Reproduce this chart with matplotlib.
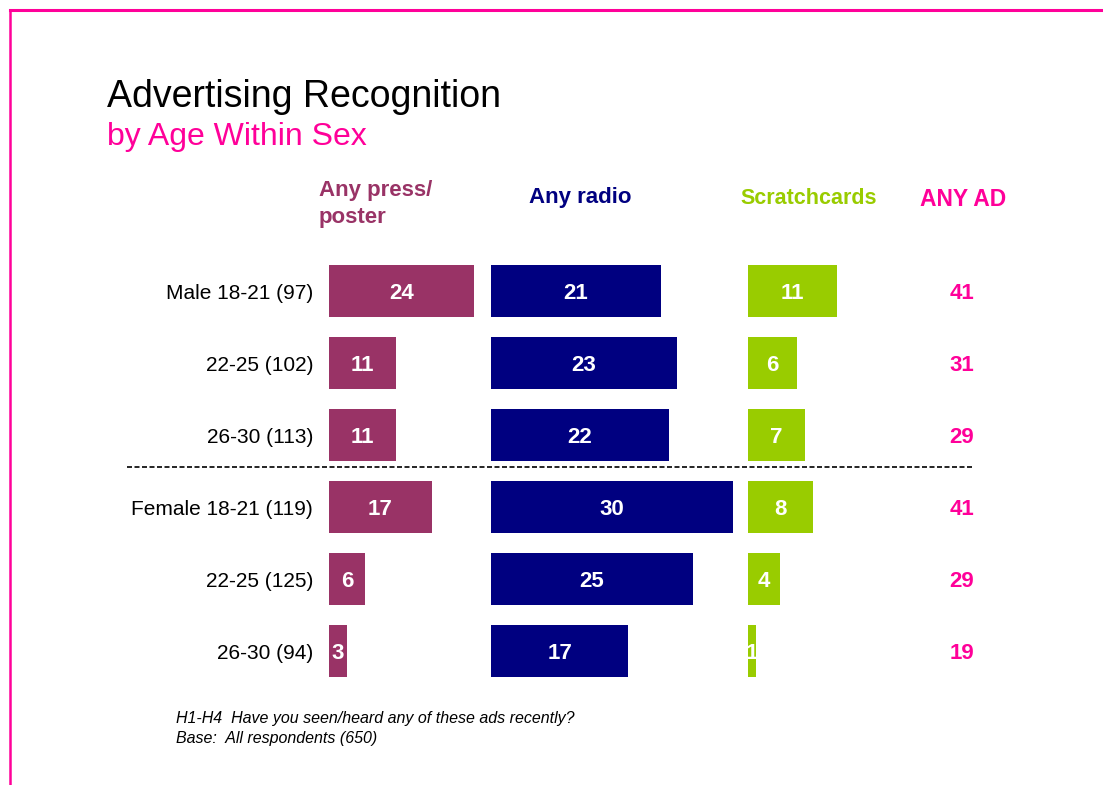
import matplotlib
matplotlib.use("Agg")
import matplotlib.pyplot as plt
from matplotlib.lines import Line2D
from matplotlib.transforms import blended_transform_factory

plt.rcParams['font.family'] = ['Liberation Sans', 'DejaVu Sans']

# survey results (%)
groups = ["Male 18-21 (97)", "22-25 (102)", "26-30 (113)",
          "Female 18-21 (119)", "22-25 (125)", "26-30 (94)"]
press = [24, 11, 11, 17, 6, 3]
radio = [21, 23, 22, 30, 25, 17]
scratch = [11, 6, 7, 8, 4, 1]
any_ad = [41, 31, 29, 41, 29, 19]

PRESS_C = "#993366"
RADIO_C = "#000080"
SCRATCH_C = "#99CC00"
PINK = "#FF0099"

W, H = 1103, 785
TXT_DY = 0.035  # nudge text down a touch so digits sit mid-bar

fig = plt.figure(figsize=(W / 100, H / 100), dpi=100)


def px_axes(left, top, width, height):
    return fig.add_axes([left / W, 1 - (top + height) / H, width / W, height / H])


def bar_panel(left, width, px_per_unit, values, color):
    ax = px_axes(left, 255, width, 432)
    ax.barh(range(len(values)), values, height=0.71, color=color)
    for i, v in enumerate(values):
        ax.text(v / 2, i + TXT_DY, str(v), ha="center", va="center",
                color="white", fontsize=16, fontweight="bold")
    ax.set_xlim(0, width / px_per_unit)
    ax.set_ylim(len(values) - 0.5, -0.5)
    ax.axis("off")
    return ax


ax_press = bar_panel(329, 150, 6.05, press, PRESS_C)
ax_radio = bar_panel(491, 250, 8.08, radio, RADIO_C)
ax_scr = bar_panel(748, 100, 8.1, scratch, SCRATCH_C)

# ANY AD column
ax_any = px_axes(900, 255, 124, 432)
ax_any.set_xlim(0, 1)
ax_any.set_ylim(len(any_ad) - 0.5, -0.5)
ax_any.axis("off")
for i, v in enumerate(any_ad):
    ax_any.text(0.5, i + TXT_DY, str(v), ha="center", va="center", color=PINK,
                fontsize=16, fontweight="bold")

# row labels
tr = blended_transform_factory(fig.transFigure, ax_press.transData)
for i, g in enumerate(groups):
    fig.text(313 / W, i + TXT_DY, g, transform=tr, ha="right", va="center",
             fontsize=15, color="black")

# dashed separator between male and female rows
fig.add_artist(Line2D([127 / W, 973 / W], [2.45, 2.45], transform=tr,
                      color="black", lw=1.2, linestyle=(0, (3, 1.5))))

# column headers
def fy(y):
    return 1 - y / H

fig.text(319 / W, fy(180), "Any press/\nposter", ha="left", va="top",
         fontsize=16, fontweight="bold", color=PRESS_C, linespacing=1.4)
fig.text(580 / W, fy(197), "Any radio", ha="center", va="center",
         fontsize=16, fontweight="bold", color=RADIO_C)
fig.text(809 / W, fy(199), "Scratchcards", ha="center", va="center",
         fontsize=15.5, fontweight="bold", color=SCRATCH_C)
fig.text(963 / W, fy(199), "ANY AD", ha="center", va="center",
         fontsize=16.5, fontweight="bold", color=PINK)

# titles
fig.text(107 / W, fy(97), "Advertising Recognition", ha="left", va="center",
         fontsize=27, color="black")
fig.text(107 / W, fy(137), "by Age Within Sex", ha="left", va="center",
         fontsize=23, color=PINK)

# footnote
fig.text(176 / W, fy(719), "H1-H4  Have you seen/heard any of these ads recently?",
         ha="left", va="center", fontsize=11.5, style="italic")
fig.text(176 / W, fy(738), "Base:  All respondents (650)",
         ha="left", va="center", fontsize=11.5, style="italic")

# pink frame on the top and left edge
fig.add_artist(Line2D([10 / W, 1], [fy(10), fy(10)], color=PINK, lw=2.2))
fig.add_artist(Line2D([10 / W, 10 / W], [fy(10), 0], color=PINK, lw=1.8))

fig.savefig("out.png", dpi=100, facecolor="white")
